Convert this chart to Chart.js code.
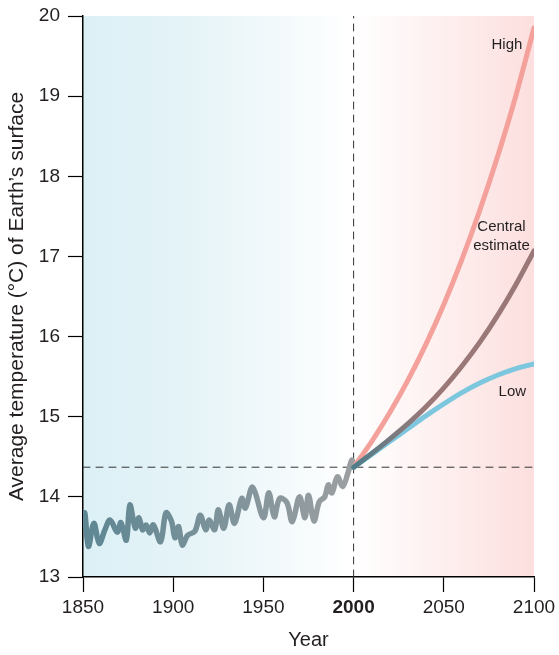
<!DOCTYPE html>
<html>
<head>
<meta charset="utf-8">
<script src="https://cdn.jsdelivr.net/npm/chart.js@4.4.0/dist/chart.umd.min.js"></script>
<style>
  body { margin: 0; background: #fff; }
  #wrap { width: 559px; height: 655px; }
</style>
</head>
<body>
<div id="wrap"><canvas id="tempChart"></canvas></div>
<script>
// Observed record (year, average surface temperature in °C)
const histYears = [1850, 1851, 1853, 1856, 1859, 1862, 1865, 1869, 1871, 1874, 1876, 1879, 1881, 1883, 1885, 1887, 1889,
  1893, 1896, 1899, 1901, 1903, 1905, 1908, 1912, 1915, 1918, 1920, 1923, 1925, 1928, 1931, 1934, 1938, 1940, 1944,
  1950, 1953, 1956, 1959, 1963, 1966, 1970, 1973, 1975, 1978, 1981, 1984, 1986, 1988, 1991, 1994, 1997, 1999, 2000];
const histTemps = [13.62, 13.80, 13.38, 13.67, 13.42, 13.58, 13.71, 13.56, 13.68, 13.46, 13.90, 13.61, 13.74, 13.59, 13.65, 13.55, 13.65,
  13.44, 13.80, 13.70, 13.49, 13.63, 13.40, 13.52, 13.57, 13.77, 13.59, 13.71, 13.59, 13.84, 13.61, 13.90, 13.67, 13.98, 13.86, 14.12,
  13.74, 14.05, 13.75, 13.98, 13.93, 13.69, 14.00, 13.74, 14.02, 13.70, 13.94, 14.00, 14.15, 14.05, 14.25, 14.13, 14.31, 14.46, 14.37];

// Projections from 2000
const projYears = [2000, 2010, 2020, 2030, 2040, 2050, 2060, 2070, 2080, 2090, 2100];
const highTemps = [14.37, 14.69, 15.05, 15.45, 15.90, 16.40, 16.96, 17.58, 18.26, 19.01, 19.85];
const centralTemps = [14.37, 14.54, 14.72, 14.91, 15.12, 15.36, 15.63, 15.93, 16.27, 16.65, 17.07];
const lowTemps = [14.37, 14.53, 14.69, 14.85, 15.01, 15.16, 15.30, 15.42, 15.52, 15.60, 15.66];

// Axes
const xTicks = [1850, 1900, 1950, 2000, 2050, 2100];
const yTicks = [13, 14, 15, 16, 17, 18, 19, 20];
const splitYear = 2000;
const refTemp = 14.37;

// Scenario labels: [text lines, year, temp]
const scenarioLabels = [
  [["High"], 2085, 19.64],
  [["Central", "estimate"], 2082, 17.25],
  [["Low"], 2088, 15.31]
];

const FONT = "'Liberation Sans', Arial, sans-serif";
const toPts = (xs, ys) => xs.map((x, i) => ({ x: x, y: ys[i] }));

function xGradient(ctx, from, to, stops) {
  const chart = ctx.chart;
  if (!chart.chartArea) return stops[stops.length - 1];
  const xs = chart.scales.x;
  const g = chart.ctx.createLinearGradient(xs.getPixelForValue(from), 0, xs.getPixelForValue(to), 0);
  g.addColorStop(0, stops[0]);
  g.addColorStop(1, stops[1]);
  return g;
}

// Background shading: cool before 2000, warm after
const shading = {
  id: "shading",
  beforeDraw(chart) {
    const { ctx, chartArea: a, scales } = chart;
    const mid = scales.x.getPixelForValue(splitYear);
    ctx.save();
    let g = ctx.createLinearGradient(a.left, 0, mid, 0);
    g.addColorStop(0, "#dbf0f5");
    g.addColorStop(0.45, "#e7f4f8");
    g.addColorStop(1, "#ffffff");
    ctx.fillStyle = g;
    ctx.fillRect(a.left, a.top, mid - a.left, a.bottom - a.top);
    g = ctx.createLinearGradient(mid, 0, a.right, 0);
    g.addColorStop(0, "#ffffff");
    g.addColorStop(1, "#fcdfde");
    ctx.fillStyle = g;
    ctx.fillRect(mid, a.top, a.right - mid, a.bottom - a.top);
    ctx.restore();
  }
};

const labelsPlugin = {
  id: "scenarioLabels",
  afterDatasetsDraw(chart) {
    const { ctx, scales } = chart;
    ctx.save();
    ctx.font = "15px " + FONT;
    ctx.fillStyle = "#231f20";
    ctx.textAlign = "center";
    ctx.textBaseline = "middle";
    scenarioLabels.forEach(([lines, yr, t]) => {
      const x = scales.x.getPixelForValue(yr);
      const y = scales.y.getPixelForValue(t);
      const start = y - (lines.length - 1) * 9.5;
      lines.forEach((ln, i) => ctx.fillText(ln, x, start + i * 19));
    });
    ctx.restore();
  }
};

new Chart(document.getElementById("tempChart"), {
  type: "line",
  data: {
    datasets: [
      {
        label: "High",
        data: toPts(projYears, highTemps),
        borderColor: "#f4a09b",
        borderWidth: 5,
        cubicInterpolationMode: "monotone",
        order: 3
      },
      {
        label: "Central estimate",
        data: toPts(projYears, centralTemps),
        borderColor: (ctx) => xGradient(ctx, 2000, 2040, ["#4f7d89", "#9b7878"]),
        borderWidth: 5,
        cubicInterpolationMode: "monotone",
        order: 1
      },
      {
        label: "Low",
        data: toPts(projYears, lowTemps),
        borderColor: "#7dc7de",
        borderWidth: 5,
        cubicInterpolationMode: "monotone",
        order: 2
      },
      {
        label: "Observed",
        data: toPts(histYears, histTemps),
        borderColor: (ctx) => xGradient(ctx, 1850, 2000, ["#5d8693", "#9c9fa1"]),
        borderWidth: 5.5,
        tension: 0.35,
        order: 4
      },
      {
        label: "2000 level",
        data: [{ x: 1850, y: refTemp }, { x: 2100, y: refTemp }],
        borderColor: "#333333",
        borderWidth: 1,
        borderDash: [7, 6],
        order: 5
      },
      {
        label: "2000",
        data: [{ x: splitYear, y: 13 }, { x: splitYear, y: 20 }],
        borderColor: "#333333",
        borderWidth: 1,
        borderDash: [7, 6],
        order: 5
      }
    ]
  },
  options: {
    responsive: true,
    maintainAspectRatio: false,
    animation: false,
    layout: { padding: { top: 16, right: 25, left: 0, bottom: 0 } },
    elements: { point: { radius: 0 }, line: { borderCapStyle: "round", borderJoinStyle: "round" } },
    plugins: {
      legend: { display: false },
      tooltip: { enabled: false }
    },
    scales: {
      x: {
        type: "linear",
        min: 1850,
        max: 2100,
        afterBuildTicks: (s) => { s.ticks = xTicks.map((v) => ({ value: v })); },
        afterFit: (s) => { s.height = 78; s.paddingRight = 0; s.paddingLeft = 0; },
        grid: { drawOnChartArea: false, drawTicks: true, tickLength: 15, color: "#000", tickWidth: 1.2 },
        border: { display: true, color: "#000", width: 1.5 },
        ticks: {
          padding: 4,
          color: "#231f20",
          callback: (v) => String(v),
          font: (c) => ({
            family: FONT,
            size: 19,
            weight: c.tick && c.tick.value === splitYear ? "bold" : "normal"
          })
        },
        title: {
          display: true,
          text: "Year",
          color: "#231f20",
          font: { family: FONT, size: 20 },
          padding: { top: 2, bottom: 3 }
        }
      },
      y: {
        min: 13,
        max: 20,
        afterBuildTicks: (s) => { s.ticks = yTicks.map((v) => ({ value: v })); },
        afterFit: (s) => { s.width = 83; s.paddingTop = 0; s.paddingBottom = 0; },
        grid: { drawOnChartArea: false, drawTicks: true, tickLength: 15, color: "#000", tickWidth: 1.2 },
        border: { display: true, color: "#000", width: 1.5 },
        ticks: {
          padding: 8,
          color: "#231f20",
          font: { family: FONT, size: 19 }
        },
        title: {
          display: true,
          text: "Average temperature (°C) of Earth\u2019s surface",
          color: "#231f20",
          font: { family: FONT, size: 21 },
          padding: { top: 5, bottom: 2 }
        }
      }
    }
  },
  plugins: [shading, labelsPlugin]
});
</script>
</body>
</html>
